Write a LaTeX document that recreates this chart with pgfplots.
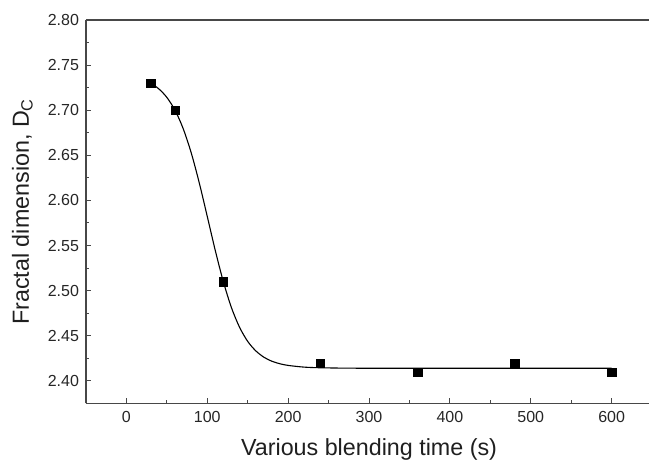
\documentclass[border=0pt]{standalone}
\usepackage{pgfplots}
\pgfplotsset{compat=1.18}
\usepackage{fontspec}
\setmainfont{Liberation Sans}
\begin{document}
\begin{tikzpicture}[x=1pt,y=1pt]
\path[use as bounding box] (-86,-55.6) rectangle (563,403.4);
\begin{axis}[
  at={(0,0)}, anchor=south west,
  scale only axis, width=566.1pt, height=383.4pt,
  xmin=-50, xmax=650, ymin=2.375, ymax=2.80,
  axis x line*=box, axis y line*=left,
  xtick={0,100,200,300,400,500,600},
  ytick={2.40,2.45,2.50,2.55,2.60,2.65,2.70,2.75,2.80},
  minor x tick num=1, minor y tick num=1,
  xtick pos=bottom, ytick pos=left,
  major tick length=5pt, minor tick length=3.5pt,
  axis line style={line width=1.3pt, color=black!72},
  every tick/.style={line width=1pt, color=black!72},
  /pgf/number format/assume math mode=true,
  yticklabel style={/pgf/number format/fixed, /pgf/number format/fixed zerofill, /pgf/number format/precision=2, xshift=-3.5pt},
  xticklabel style={/pgf/number format/fixed, yshift=-4pt},
  ticklabel style={font=\fontsize{16}{19}\selectfont, color=black!85},
  xlabel={Various blending time (s)},
  ylabel={Fractal dimension, D\textsubscript{C}},
  label style={font=\fontsize{23.3}{28}\selectfont, color=black!88},
  xlabel style={at={([yshift=-52pt]axis description cs:0.5,0)}, anchor=base},
  ylabel style={at={([xshift=-57pt]axis description cs:0,0.50)}, anchor=base},
  clip=false,
]
\addplot[black, line width=1.1pt, smooth, no marks] coordinates {
 (30,2.7301) (40,2.7237) (50,2.7142) (60,2.7001) (70,2.6800) (80,2.6531)
 (90,2.6197) (100,2.5821) (110,2.5440) (120,2.5094) (130,2.4808) (140,2.4592)
 (150,2.4437) (160,2.4332) (170,2.4262) (180,2.4217) (190,2.4189) (200,2.4171)
 (220,2.4152) (240,2.4145) (270,2.4141) (300,2.4140) (400,2.4140) (500,2.4140) (600,2.4140)
};
\addplot[only marks, mark=square*, mark size=4.1pt, mark options={black, fill=black, line width=0.3pt}] coordinates {
 (30,2.73) (60,2.70) (120,2.51) (240,2.42) (360,2.41) (480,2.42) (600,2.41)
};
\end{axis}
\end{tikzpicture}
\end{document}
